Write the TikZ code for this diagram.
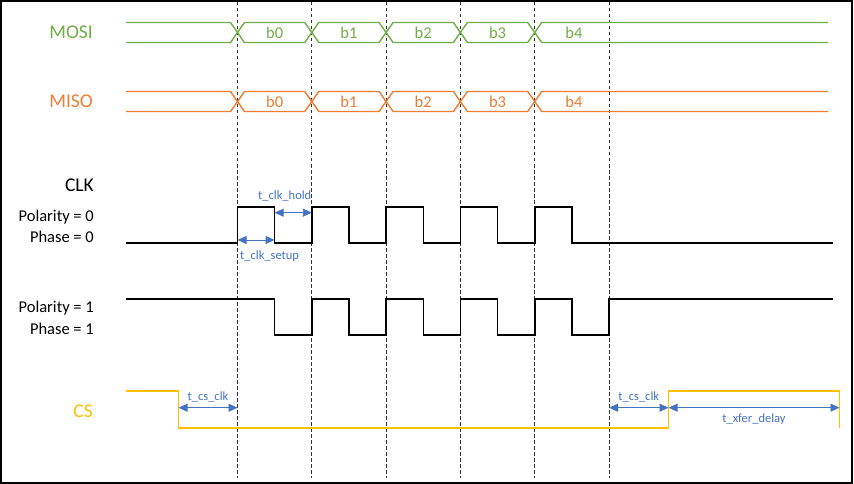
\documentclass[tikz,border=0pt]{standalone}
\usepackage{fontspec}
\setmainfont{Carlito}
\usepackage{xcolor}
\usepackage{tikz}
\usetikzlibrary{arrows.meta}

\definecolor{mosigreen}{HTML}{70AD47}
\definecolor{misoorange}{HTML}{ED7D31}
\definecolor{csyellow}{HTML}{FFC000}
\definecolor{timeblue}{HTML}{4472C4}

\begin{document}
\begin{tikzpicture}[
  x=1pt, y=-1pt,
  signame/.style={font=\fontsize{19.5}{22}\selectfont, anchor=east, inner sep=0pt},
  mode/.style={font=\fontsize{16.5}{19}\selectfont, anchor=east, inner sep=0pt},
  bit/.style={font=\fontsize{16.5}{19}\selectfont, inner sep=0pt},
  tlabel/.style={font=\fontsize{12.5}{15}\selectfont, text=timeblue, inner sep=1.5pt},
  wave/.style={line width=1.6pt},
  bus/.style={line width=1.4pt},
  sample/.style={dash pattern=on 3.5pt off 2.5pt, line width=1pt, black!80},
  span/.style={timeblue, line width=0.9pt, {Triangle[length=9pt,width=8pt]}-{Triangle[length=9pt,width=8pt]}}
]
\useasboundingbox (0,0) rectangle (854,484);
\draw[line width=1.2pt] (1,1) rectangle (852,483);

% Sampling edges
\foreach \i in {0,...,5}
  \draw[sample] (237.5+74.3*\i,2) -- (237.5+74.3*\i,478);

% Data lines
\foreach \nm/\col/\yt/\lbl in {mosi/mosigreen/22.5/MOSI, miso/misoorange/91.5/MISO} {
  \pgfmathsetmacro\ym{\yt+10}
  \pgfmathsetmacro\yb{\yt+20}
  \node[signame, text=\col] (\nm) at (93,\ym) {\lbl};
  \draw[bus, \col] (126,\yt) -- (230.5,\yt) -- (237.5,\ym) -- (230.5,\yb) -- (126,\yb);
  \foreach \i/\b in {0/b0,1/b1,2/b2,3/b3} {
    \pgfmathsetmacro\xa{237.5+74.3*\i}
    \pgfmathsetmacro\xb{\xa+74.3}
    \draw[bus, \col] (\xa,\ym) -- (\xa+7,\yt) -- (\xb-7,\yt) -- (\xb,\ym)
      -- (\xb-7,\yb) -- (\xa+7,\yb) -- cycle;
    \node[bit, text=\col] (\nm\b) at (\xa+37.15,\ym) {\b};
  }
  \draw[bus, \col] (828,\yt) -- (541.7,\yt) -- (534.7,\ym) -- (541.7,\yb) -- (828,\yb);
  \node[bit, text=\col] (\nm b4) at (574,\ym) {b4};
}

% Clock, polarity 0 / phase 0
\node[signame] (clk) at (94,185) {CLK};
\node[mode] (pol0) at (94,216.7) {Polarity = 0};
\node[mode] (pha0) at (94,236.7) {Phase = 0};
\draw[wave] (126,243) -| (237.5,207) -| (274.6,243) -| (311.8,207) -| (349,243)
  -| (386.1,207) -| (423.3,243) -| (460.4,207) -| (497.6,243) -| (534.7,207)
  -| (571.9,243) -- (833,243);

\coordinate (setupA) at (237.5,240);
\coordinate (setupB) at (274.6,240);
\coordinate (holdA) at (274.6,212.7);
\coordinate (holdB) at (311.8,212.7);
\draw[span] (setupA) -- (setupB);
\node[tlabel, anchor=north west] (setup) at (238.5,249) {t\_clk\_setup};
\draw[span] (holdA) -- (holdB);
\node[tlabel, anchor=south east] (hold) at (313,203) {t\_clk\_hold};

% Clock, polarity 1 / phase 1
\node[mode] (pol1) at (94,308) {Polarity = 1};
\node[mode] (pha1) at (94,329) {Phase = 1};
\draw[wave] (126,299) -| (274.6,335) -| (311.8,299) -| (349,335) -| (386.1,299)
  -| (423.3,335) -| (460.4,299) -| (497.6,335) -| (534.7,299) -| (571.9,335)
  -| (609,299) -- (833,299);

% Chip select
\node[signame, text=csyellow] (cs) at (93,411) {CS};
\draw[bus, line width=1.9pt, csyellow] (126,391.3) -| (178.5,428) -| (668.5,391.3) -| (839.5,428);

\coordinate (csA) at (178.5,407.7);
\coordinate (csB) at (237.5,407.7);
\coordinate (csC) at (609,407.7);
\coordinate (csD) at (668.5,407.7);
\coordinate (csE) at (839.5,407.7);
\draw[span] (csA) -- (csB) node[midway, above=4pt, tlabel] {t\_cs\_clk};
\draw[span] (csC) -- (csD) node[midway, above=4pt, tlabel] {t\_cs\_clk};
\draw[span] (csD) -- (csE) node[midway, below=4pt, tlabel] {t\_xfer\_delay};

\end{tikzpicture}
\end{document}
